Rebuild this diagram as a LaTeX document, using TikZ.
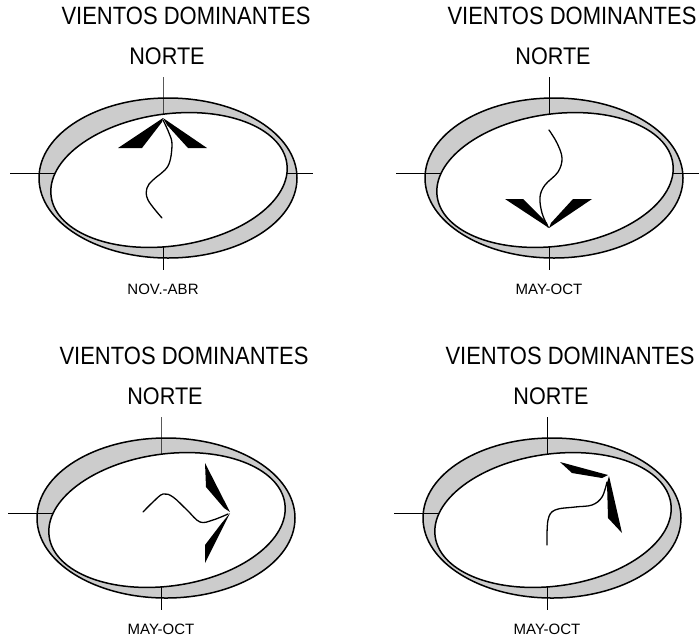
\documentclass[tikz,border=0pt]{standalone}
\usepackage{fontspec}
\setmainfont{Liberation Sans}
\tikzset{
  outline/.style={line width=1.5pt},
  axisline/.style={line width=0.9pt},
  stemline/.style={line width=1.3pt, line cap=round, line join=round},
  bandfill/.style={fill=black!20},
  titletext/.style={inner sep=0pt, anchor=base, font=\fontsize{25}{25}\selectfont},
  nortetext/.style={inner sep=0pt, anchor=base, font=\fontsize{24}{24}\selectfont},
  labeltext/.style={inner sep=0pt, anchor=base, font=\fontsize{15}{15}\selectfont},
}
% #1 name prefix, #2 season label, #3 right axis line (1 = yes)
\newcommand\rosebase[3]{%
  \begin{scope}
    \clip (5,0) ellipse [x radius=129, y radius=80];
    \fill[bandfill, even odd rule] (5,0) ellipse [x radius=129, y radius=80]
      (6,2) ellipse [x radius=119, y radius=66, rotate=8];
  \end{scope}
  \draw[axisline] (0,-101) -- (0,0) -- (0,92);
  \draw[axisline] (-153,-5) -- (0,-5);
  \ifnum#3=1 \draw[axisline] (0,-5) -- (150,-5);\fi
  \fill[white] (6,2) ellipse [x radius=119, y radius=66, rotate=8];
  \draw[outline] (5,0) ellipse [x radius=129, y radius=80];
  \draw[outline] (6,2) ellipse [x radius=119, y radius=66, rotate=8];
  \node[titletext] (#1title) at (23,-154) {\scalebox{0.88}[1]{VIENTOS DOMINANTES}};
  \node[nortetext] (#1norte) at (4,-114) {\scalebox{0.9}[1]{NORTE}};
  \node[labeltext] (#1label) at (0,116) {#2};
}
\begin{document}
\begin{tikzpicture}[x=1pt, y=-1pt]
\useasboundingbox (0,0) rectangle (700,643);

% Panel 1: NOV.-ABR
\begin{scope}[shift={(163,178)}]
  \rosebase{a}{NOV.-ABR}{1}
  \fill (0,-60) -- (-45,-30) -- (-21,-30) -- (-1,-56) -- cycle;
  \fill (0,-60) -- (44,-30) -- (25,-30) -- (4,-53) -- cycle;
  \draw[stemline] plot[smooth, tension=0.6] coordinates {(0,-58) (6,-45) (9,-33) (5,-12) (-10,2) (-16,10) (-15,22) (-1,40)};
\end{scope}

% Panel 2: MAY-OCT (south)
\begin{scope}[shift={(549,178)}]
  \rosebase{b}{MAY-OCT}{1}
  \fill (0,50) -- (-44,21) -- (-26,21) -- (-2,45) -- cycle;
  \fill (0,50) -- (43,21) -- (24,21) -- (2,45) -- cycle;
  \draw[stemline] plot[smooth, tension=0.6] coordinates {(0,-48) (8,-35) (13,-20) (9,-6) (-4,7) (-9,19) (-7,35) (-1,49)};
\end{scope}

% Panel 3: MAY-OCT (east)
\begin{scope}[shift={(161,518)}]
  \rosebase{c}{MAY-OCT}{0}
  \fill (44,-55) -- (69,-6) -- (63,-10) -- (45,-31) -- cycle;
  \fill (69,-5) -- (44,45) -- (44,27) -- (60,6) -- cycle;
  \draw[stemline] plot[smooth, tension=0.6] coordinates {(-18,-6) (-8,-16) (2,-24) (12,-21) (26,-8) (39,4) (52,2) (67,-4)};
\end{scope}

% Panel 4: MAY-OCT (north-east turn)
\begin{scope}[shift={(547,518)}]
  \rosebase{d}{MAY-OCT}{0}
  \fill (13,-56) -- (61,-43) -- (55,-40) -- (25,-45) -- cycle;
  \fill (62,-42) -- (75,15) -- (61,0) -- (60,-35) -- cycle;
  \draw[stemline] plot[smooth, tension=0.6] coordinates {(60,-36) (55,-21) (45,-13) (28,-11) (8,-8) (1,2) (0,27)};
\end{scope}
\end{tikzpicture}
\end{document}
